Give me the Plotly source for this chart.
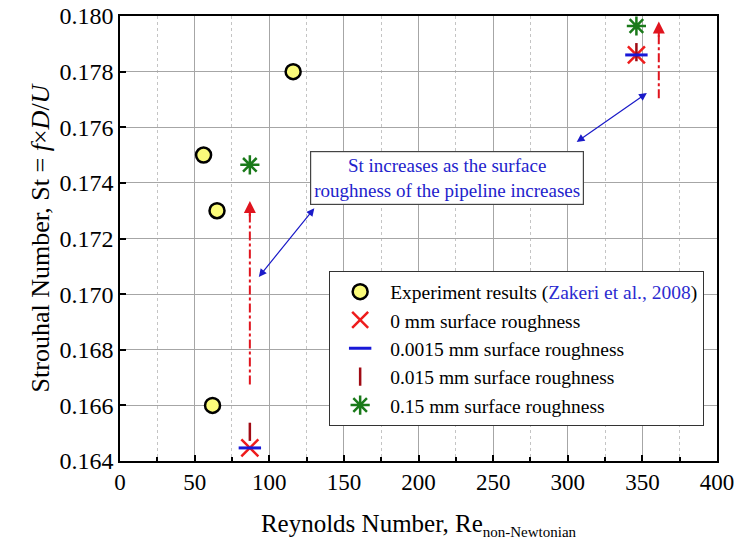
import plotly.graph_objects as go

# ---- data ----
exp_re = [56, 65, 62, 116]
exp_st = [0.1750, 0.1730, 0.1660, 0.1780]

r0_re = [87, 346]
r0_st = [0.16447, 0.17860]

r00015_re = [87, 346]
r00015_st = [0.16447, 0.17860]

r0015_re = [87, 346]
r0015_st = [0.16505, 0.17870]

r015_re = [87, 346]
r015_st = [0.17465, 0.17964]

# red dash-dot arrows (start -> tip)
red_arrows = [((87, 0.16675), (87, 0.17335)), ((361, 0.17704), (361, 0.17980))]
# blue double-headed arrows
blue_arrows = [((93, 0.17062), (131, 0.17314)), ((306, 0.17547), (354, 0.17727))]

note_text = "St increases as the surface<br>roughness of the pipeline increases"
note_pos = (219, 0.17416)

x_ticks = [0, 50, 100, 150, 200, 250, 300, 350, 400]
y_ticks = [0.164, 0.166, 0.168, 0.170, 0.172, 0.174, 0.176, 0.178, 0.180]

FONT = "Liberation Serif"

fig = go.Figure()

fig.add_trace(go.Scatter(
    x=exp_re, y=exp_st, mode="markers",
    name='Experiment results (<span style="color:#2b2bd0">Zakeri et al., 2008</span>)',
    marker=dict(symbol="circle", size=15, color="#fbfb7a",
                line=dict(color="black", width=2.5))))
fig.add_trace(go.Scatter(
    x=r0_re, y=r0_st, mode="markers", name="0 mm surface roughness",
    marker=dict(symbol="x-thin", size=17, line=dict(color="#ee1c1c", width=2.5))))
fig.add_trace(go.Scatter(
    x=r0015_re, y=r0015_st, mode="markers", name="0.015 mm surface roughness",
    marker=dict(symbol="line-ns", size=13, line=dict(color="#a00b14", width=2.5)),
    showlegend=False))
fig.add_trace(go.Scatter(
    x=r00015_re, y=r00015_st, mode="markers", name="0.0015 mm surface roughness",
    marker=dict(symbol="line-ew", size=16, line=dict(color="#1818d8", width=3))))
fig.add_trace(go.Scatter(
    x=[None], y=[None], mode="markers", name="0.015 mm surface roughness",
    marker=dict(symbol="line-ns", size=13, line=dict(color="#a00b14", width=2.5))))
fig.add_trace(go.Scatter(
    x=r015_re, y=r015_st, mode="markers", name="0.15 mm surface roughness",
    marker=dict(symbol="asterisk", size=16, line=dict(color="#1a7a1a", width=2.5))))

# red dash-dot arrow shafts
for (x0, y0), (x1, y1) in red_arrows:
    fig.add_trace(go.Scatter(
        x=[x0, x1], y=[y0, y1 - 0.0004], mode="lines", showlegend=False,
        line=dict(color="#e0141e", width=2, dash="dashdot"), hoverinfo="skip"))
    fig.add_annotation(x=x1, y=y1, ax=x1, ay=y1 - 0.0006, xref="x", yref="y",
                       axref="x", ayref="y", showarrow=True, arrowhead=2,
                       arrowsize=1.2, arrowwidth=2, arrowcolor="#e0141e", text="")

for (x0, y0), (x1, y1) in blue_arrows:
    fig.add_annotation(x=x0, y=y0, ax=x1, ay=y1, xref="x", yref="y",
                       axref="x", ayref="y", showarrow=True, arrowhead=2,
                       arrowside="end+start", arrowsize=1.3, arrowwidth=1.2,
                       arrowcolor="#1a1ac8", text="")

fig.add_annotation(x=note_pos[0], y=note_pos[1], xref="x", yref="y",
                   text=note_text, showarrow=False, xanchor="center", yanchor="middle",
                   font=dict(family=FONT, size=19, color="#2222cc"),
                   bgcolor="white", bordercolor="#444444", borderwidth=1.2,
                   borderpad=3)

axis_common = dict(showline=True, linecolor="black", linewidth=1.5, mirror=True,
                   ticks="inside", ticklen=6, tickcolor="black", tickwidth=1.5,
                   showgrid=True, gridcolor="#a6a6a6", gridwidth=1.3,
                   zeroline=False, automargin=False)

fig.update_xaxes(range=[0, 400], tickvals=x_ticks, **axis_common,
                 tickfont=dict(family=FONT, size=23, color="black"),
                 minor=dict(dtick=25, tick0=0, ticks="inside", ticklen=4,
                            tickcolor="black", showgrid=True, gridcolor="#c4c4c4",
                            griddash="dot", gridwidth=1),
                 title=dict(text='Reynolds Number, Re<sub><span style="font-size:15px">non-Newtonian</span></sub>',
                            font=dict(family=FONT, size=25, color="black"), standoff=20))
fig.update_yaxes(range=[0.164, 0.180], tickvals=y_ticks, tickformat=".3f", **axis_common,
                 tickfont=dict(family=FONT, size=24, color="black"),
                 title=dict(text="Strouhal Number, St = <i>f</i>×<i>D</i>/<i>U</i>",
                            font=dict(family=FONT, size=26, color="black"), standoff=2))

fig.update_layout(
    width=737, height=549,
    margin=dict(l=120, r=20, t=16, b=88),
    plot_bgcolor="white", paper_bgcolor="white",
    font=dict(family=FONT),
    legend=dict(x=0.35, y=0.4264, xanchor="left", yanchor="top",
                bgcolor="white", bordercolor="#333333", borderwidth=1.2,
                font=dict(family=FONT, size=19.5, color="black"),
                tracegroupgap=0, itemwidth=50),
)

fig.write_html("out.html", config={"displayModeBar": False},
               post_script="document.body.style.margin='0';")
